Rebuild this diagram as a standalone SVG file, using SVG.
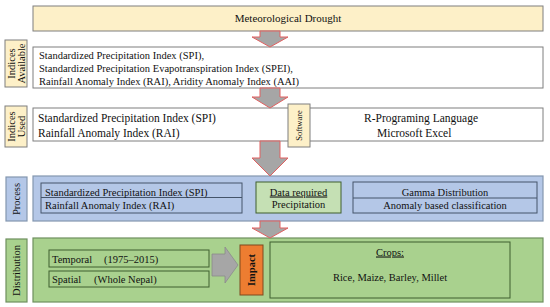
<svg xmlns="http://www.w3.org/2000/svg" width="550" height="307" viewBox="0 0 550 307">
<style>
text{font-family:"Liberation Serif","Times New Roman",serif;fill:#111}
.yel{fill:#FDF0C8;stroke:#7F7F7F;stroke-width:1}
.wht{fill:#FFFFFF;stroke:#7F7F7F;stroke-width:1}
.blu{fill:#B4C7E7;stroke:#8497B0;stroke-width:1.2}
.blu2{fill:#B4C7E7;stroke:#44546A;stroke-width:1}
.grn{fill:#A9D18E;stroke:#6E8F5E;stroke-width:1.2}
.grn2{fill:#A9D18E;stroke:#3F5F2F;stroke-width:1}
.lgrn{fill:#C5E0B4;stroke:#3F5F2F;stroke-width:1}
.arr{fill:#A6A6A6;stroke:#E06060;stroke-width:1}
.t11{font-size:11.5px}
.t10{font-size:10.5px}
.c{text-anchor:middle}
</style>

<g id="meteorological-drought">
<rect class="yel" x="33" y="6" width="510" height="25"/>
<text class="t10 c" style="font-size:11px" x="288" y="22">Meteorological Drought</text>
</g>

<g id="label-indices-available">
<rect class="yel" x="5" y="40" width="22" height="47"/>
<text class="t10 c" transform="translate(14.5,63.5) rotate(-90)">Indices</text>
<text class="t10 c" transform="translate(25,63.5) rotate(-90)">Available</text>
</g>

<g id="indices-available">
<rect class="wht" x="33" y="47" width="510" height="41"/>
<text class="t10" x="39" y="58.5">Standardized Precipitation Index (SPI),</text>
<text class="t10" x="39" y="71.5">Standardized Precipitation Evapotranspiration Index (SPEI),</text>
<text class="t10" x="39" y="84.5">Rainfall Anomaly Index (RAI), Aridity Anomaly Index (AAI)</text>
</g>

<g id="label-indices-used">
<rect class="yel" x="5" y="106" width="22" height="41"/>
<text class="t10 c" transform="translate(14.5,126.5) rotate(-90)">Indices</text>
<text class="t10 c" transform="translate(25,126.5) rotate(-90)">Used</text>
</g>

<g id="indices-used">
<rect class="wht" x="33" y="108" width="510" height="33"/>
<text class="t11" x="38" y="122">Standardized Precipitation Index (SPI)</text>
<text class="t11" x="38" y="137">Rainfall Anomaly Index (RAI)</text>
<text class="t11" x="364" y="122">R-Programing Language</text>
<text class="t11" x="377" y="137">Microsoft Excel</text>
</g>

<g id="label-software">
<rect class="yel" x="288" y="104" width="22" height="43"/>
<text class="c" style="font-size:8.5px" transform="translate(302,125.5) rotate(-90)">Software</text>
</g>

<g id="label-process">
<rect class="blu" x="6" y="177" width="21" height="44"/>
<text class="t10 c" transform="translate(19.5,199) rotate(-90)">Process</text>
</g>

<g id="process">
<rect class="blu" x="33" y="176" width="510" height="45"/>
<rect class="blu2" x="41" y="183" width="201" height="30"/>
<line x1="41" y1="197.5" x2="242" y2="197.5" stroke="#44546A" stroke-width="1"/>
<text class="t10" x="45" y="195.5">Standardized Precipitation Index (SPI)</text>
<text class="t10" x="45" y="208.5">Rainfall Anomaly Index (RAI)</text>
</g>

<g id="data-required">
<rect class="lgrn" x="256" y="182" width="85" height="31"/>
<text class="t10 c" x="298.5" y="195.5" text-decoration="underline">Data required</text>
<text class="t10 c" x="298.5" y="208">Precipitation</text>
</g>

<g id="gamma-anomaly">
<rect class="blu2" x="353" y="182" width="184" height="31"/>
<line x1="353" y1="198" x2="537" y2="198" stroke="#44546A" stroke-width="1"/>
<text class="t10 c" x="445" y="195.5">Gamma Distribution</text>
<text class="t10 c" x="445" y="208.5">Anomaly based classification</text>
</g>

<g id="label-distribution">
<rect class="grn" x="6" y="239" width="21" height="63"/>
<text class="t10 c" transform="translate(19.5,270.5) rotate(-90)">Distribution</text>
</g>

<g id="distribution">
<rect class="grn" x="33" y="238" width="510" height="64"/>
</g>

<g id="temporal">
<rect class="grn2" x="49" y="250" width="160" height="17"/>
<text class="t10" x="52" y="262.5">Temporal</text>
<text class="t10" x="104" y="262.5">(1975–2015)</text>
</g>

<g id="spatial">
<rect class="grn2" x="49" y="271" width="160" height="16"/>
<text class="t10" x="52" y="282.5">Spatial</text>
<text class="t10" x="94" y="282.5">(Whole Nepal)</text>
</g>

<g id="impact">
<rect x="240" y="245" width="23" height="50" fill="#ED7D31" stroke="#7F4A1F" stroke-width="1"/>
<text class="t10 c" font-weight="bold" transform="translate(255,270) rotate(-90)">Impact</text>
</g>

<g id="crops">
<rect class="grn2" x="270" y="242" width="240" height="56"/>
<text class="t10 c" x="390" y="255.5" text-decoration="underline">Crops:</text>
<text class="t10 c" x="390" y="280.5">Rice, Maize, Barley, Millet</text>
</g>

<g id="connectors">
<path class="arr" d="M260,31 L280,31 L280,37 L288,37 L270,47 L252,37 L260,37 Z"/>
<path class="arr" d="M260,88 L280,88 L280,97 L288,97 L270,108 L252,97 L260,97 Z"/>
<path class="arr" d="M260,141 L280,141 L280,158 L288,158 L270,176 L252,158 L260,158 Z"/>
<path class="arr" d="M260,221 L280,221 L280,228 L288,228 L270,238 L252,228 L260,228 Z"/>
<path d="M212,254 L225,254 L225,247 L238,265 L225,283 L225,276 L212,276 Z" fill="#A6A6A6" stroke="#8C8C8C" stroke-width="0.8"/>
</g>
</svg>
